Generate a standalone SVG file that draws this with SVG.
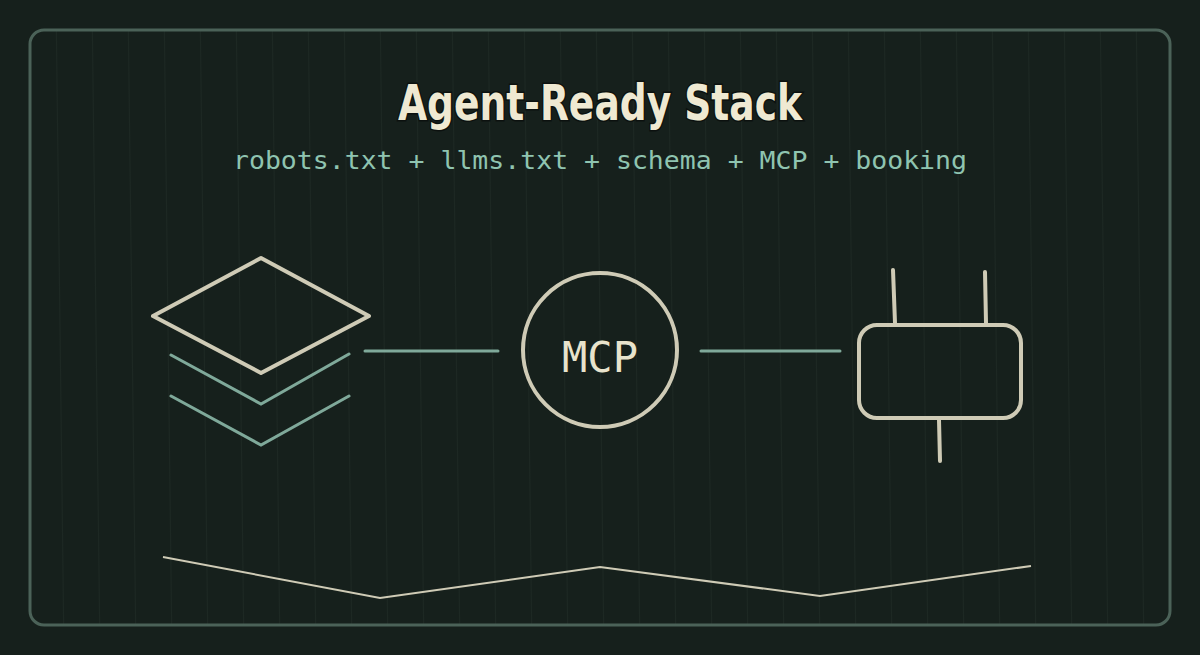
<svg xmlns="http://www.w3.org/2000/svg" width="1200" height="655" viewBox="0 0 1200 655">
<defs>
<style>
.bgl{stroke:#1d2823;stroke-width:1;fill:none}
.cream{stroke:#cfcbb6;fill:none;stroke-width:4;stroke-linecap:round;stroke-linejoin:round}
.teal{stroke:#7fa99a;fill:none;stroke-width:3;stroke-linecap:round}
</style>
<pattern id="rain" width="36" height="655" patternUnits="userSpaceOnUse">
<line x1="20" y1="0" x2="28" y2="655" class="bgl"/>
</pattern>
</defs>
<rect width="1200" height="655" fill="#16201c"/>
<rect x="30" y="30" width="1140" height="595" fill="url(#rain)"/>
<rect id="frame" x="30" y="30" width="1140" height="595" rx="14" fill="none" stroke="#4b6258" stroke-width="3"/>
<g id="title">
<text x="600" y="120" text-anchor="middle" font-family="'DejaVu Sans Condensed','DejaVu Sans',sans-serif" font-weight="bold" font-size="50" fill="#efe9d2" stroke="#0c110f" stroke-width="3" paint-order="stroke" textLength="404" lengthAdjust="spacingAndGlyphs">Agent-Ready Stack</text>
<text x="600" y="169" text-anchor="middle" font-family="'DejaVu Sans Mono',monospace" font-size="24" fill="#8fc4b0" textLength="734" lengthAdjust="spacingAndGlyphs">robots.txt + llms.txt + schema + MCP + booking</text>
</g>
<g id="layers">
<polygon points="261,258 369,316 261,373 153,316" class="cream"/>
<polyline points="171,355 261,404 349,354" class="teal"/>
<polyline points="171,396 261,445 349,396" class="teal"/>
</g>
<g id="connectors">
<line x1="365" y1="351" x2="498" y2="351" class="teal"/>
<line x1="701" y1="351" x2="840" y2="351" class="teal"/>
</g>
<g id="mcp">
<circle cx="600" cy="350" r="77" class="cream"/>
<text x="600" y="372" text-anchor="middle" font-family="'DejaVu Sans Mono',monospace" font-size="42" fill="#e8e3cc">MCP</text>
</g>
<g id="plug">
<rect x="859" y="325" width="162" height="93" rx="18" class="cream"/>
<line x1="893" y1="270" x2="895" y2="323" class="cream"/>
<line x1="985" y1="272" x2="986" y2="323" class="cream"/>
<line x1="939" y1="420" x2="940" y2="461" class="cream"/>
</g>
<polyline points="163,557 380,598 600,567 820,596 1031,566" fill="none" stroke="#cfcbb6" stroke-width="2"/>
</svg>
